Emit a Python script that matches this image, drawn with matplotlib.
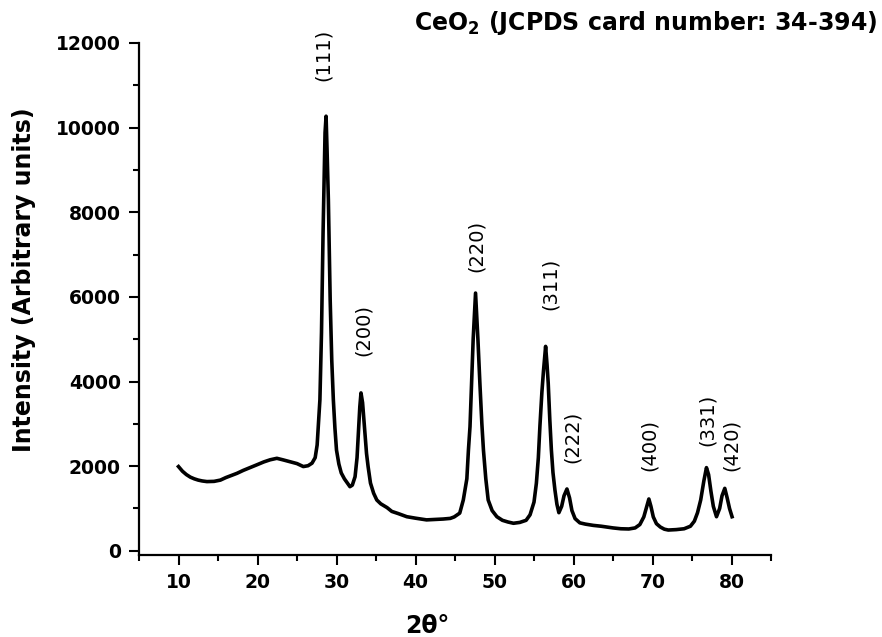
import matplotlib
matplotlib.use("Agg")
import matplotlib.pyplot as plt
from matplotlib.ticker import MultipleLocator

plt.rcParams['font.family'] = ['DejaVu Sans']
plt.rcParams['mathtext.fontset'] = 'custom'
plt.rcParams['mathtext.rm'] = 'DejaVu Sans:bold'
plt.rcParams['mathtext.default'] = 'rm'

two_theta = [10.0, 10.5, 11.0, 11.5, 12.0, 12.5, 13.0, 13.6, 14.5, 15.3, 16.0, 16.7, 17.4,
             18.2, 19.0, 19.9, 20.8, 21.6, 22.45, 23.2, 24.1, 25.0, 25.8, 26.4, 26.9,
             27.3, 27.55, 27.75, 27.9, 28.1, 28.3, 28.55, 28.68, 28.8, 28.97, 29.2, 29.4,
             29.6, 29.8, 30.0, 30.3, 30.6, 31.0, 31.3, 31.7, 32.0, 32.35, 32.6, 32.77,
             32.95, 33.1, 33.3, 33.6, 33.8, 34.0, 34.3, 34.7, 35.1, 35.6, 36.4, 37.0,
             37.8, 38.9, 40.0, 41.4, 42.5, 43.5, 44.4, 44.9, 45.6, 46.05, 46.5, 46.7,
             46.9, 47.1, 47.3, 47.6, 47.9, 48.15, 48.4, 48.6, 48.9, 49.2, 49.7, 50.3,
             51.0, 51.7, 52.4, 53.2, 54.0, 54.5, 55.0, 55.3, 55.55, 55.75, 56.0, 56.2,
             56.47, 56.65, 56.8, 57.0, 57.2, 57.4, 57.65, 57.9, 58.15, 58.5, 58.8, 59.17,
             59.5, 59.8, 60.2, 60.8, 61.5, 62.5, 63.5, 65.0, 66.0, 67.0, 67.8, 68.4,
             68.9, 69.2, 69.54, 69.8, 70.1, 70.5, 71.0, 71.5, 72.0, 73.0, 74.0, 74.8,
             75.3, 75.7, 76.1, 76.5, 76.83, 77.1, 77.4, 77.7, 78.1, 78.5, 78.8, 79.15,
             79.45, 79.75, 80.07]
intensity = [1990, 1880, 1800, 1740, 1700, 1670, 1650, 1635, 1640, 1670, 1730, 1780, 1830,
             1900, 1960, 2030, 2100, 2150, 2185, 2150, 2105, 2060, 1990, 2010, 2070,
             2200, 2500, 3100, 3570, 5150, 7520, 9880, 10270, 9500, 8300, 5930, 4500,
             3570, 2900, 2380, 2050, 1840, 1700, 1620, 1515, 1550, 1750, 2200, 2780,
             3400, 3730, 3500, 2780, 2300, 1990, 1600, 1360, 1200, 1110, 1020, 930,
             880, 805, 770, 730, 740, 750, 765, 800, 890, 1200, 1700, 2380,
             2935, 3960, 5000, 6090, 5000, 3960, 3000, 2380, 1700, 1200, 950, 805,
             720, 680, 650, 670, 720, 850, 1150, 1595, 2200, 2950, 3750, 4250,
             4830, 4400, 3960, 3100, 2380, 1850, 1435, 1100, 900, 1050, 1300, 1460,
             1250, 950, 760, 660, 630, 600, 580, 540, 520, 515, 540, 620,
             800, 1000, 1224, 1050, 800, 640, 560, 510, 490, 500, 520, 580,
             700, 900, 1200, 1650, 1965, 1800, 1400, 1050, 805, 1000, 1300, 1475,
             1250, 1000, 805]

peak_labels = ['(111)', '(200)', '(220)', '(311)', '(222)', '(400)', '(331)', '(420)']
peak_label_x = [28.3, 33.4, 47.65, 57.1, 59.85, 69.6, 76.94, 79.97]
peak_label_y = [11730, 5225, 7210, 6310, 2700, 2500, 3090, 2510]

title = r'CeO$_2$ (JCPDS card number: 34-394)'
xlabel = '2θ°'
ylabel = 'Intensity (Arbitrary units)'

fig = plt.figure(figsize=(8.82, 6.37), dpi=100)
ax = fig.add_axes([139/882, 1-555/637, (771-139)/882, (555-43)/637])

ax.plot(two_theta, intensity, color='black', lw=2.6, solid_joinstyle='round')

for lab, x, y in zip(peak_labels, peak_label_x, peak_label_y):
    ax.text(x, y, lab, rotation=90, ha='center', va='center', fontsize=14)

ax.set_xlim(5, 85)
ax.set_ylim(-100, 12000)
ax.xaxis.set_major_locator(MultipleLocator(10))
ax.xaxis.set_minor_locator(MultipleLocator(5))
ax.yaxis.set_major_locator(MultipleLocator(2000))
ax.yaxis.set_minor_locator(MultipleLocator(1000))
ax.set_xticks(range(10, 90, 10))
for s in ['top', 'right']:
    ax.spines[s].set_visible(False)
for s in ['left', 'bottom']:
    ax.spines[s].set_linewidth(1.6)
ax.tick_params(which='major', length=7, width=1.5, labelsize=13.5, pad=6)
ax.tick_params(which='minor', length=4.3, width=1.5)
for lbl in ax.get_xticklabels() + ax.get_yticklabels():
    lbl.set_fontweight('bold')

fig.text(877/882, 1-23/637, title, ha='right', va='center', fontsize=17, fontweight='bold')
fig.text(427/882, 1-626/637, xlabel, ha='center', va='center', fontsize=17, fontweight='bold')
fig.text(24/882, 1-280/637, ylabel, ha='center', va='center', rotation=90, fontsize=17, fontweight='bold')

fig.savefig('out.png', dpi=100)
